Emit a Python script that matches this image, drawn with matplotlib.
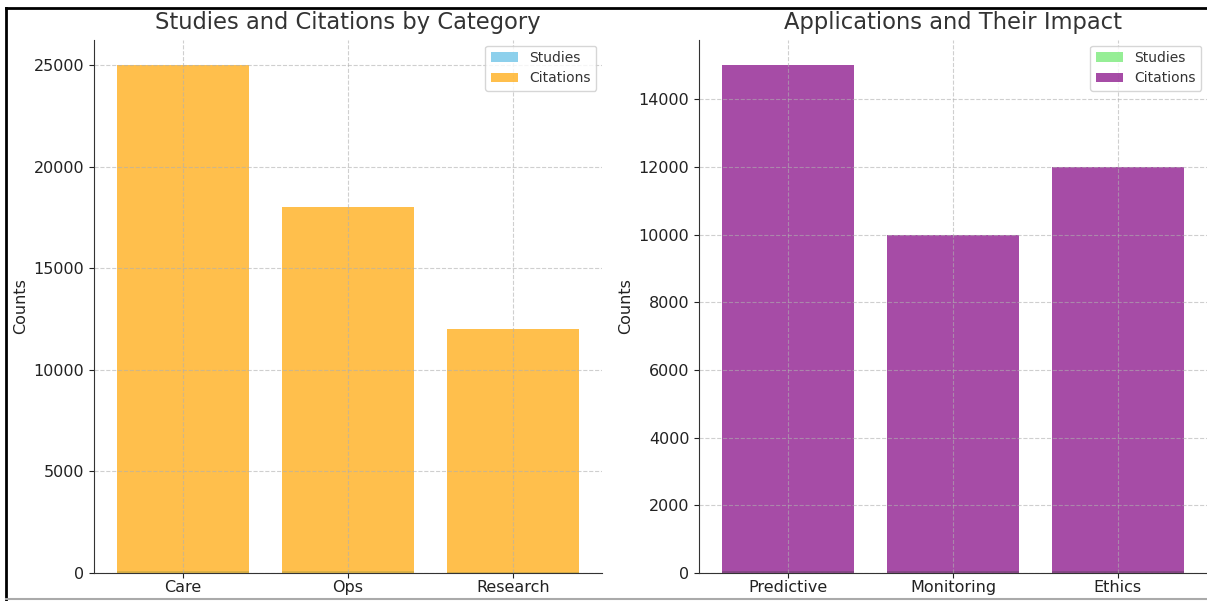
import matplotlib.pyplot as plt
from matplotlib.lines import Line2D
import numpy as np

# left panel: categories
categories = ["Care", "Ops", "Research"]
cat_studies = [120, 80, 60]
cat_citations = [25000, 18000, 12000]

# right panel: applications
applications = ["Predictive", "Monitoring", "Ethics"]
app_studies = [60, 45, 50]
app_citations = [15000, 10000, 12000]

plt.rcParams["font.family"] = "DejaVu Sans"
plt.rcParams["text.color"] = "#333333"
plt.rcParams["axes.labelcolor"] = "#222222"
plt.rcParams["xtick.color"] = "#222222"
plt.rcParams["ytick.color"] = "#222222"
plt.rcParams["axes.edgecolor"] = "#333333"

fig = plt.figure(figsize=(12.07, 6.01), dpi=100)
ax1 = fig.add_axes([0.0779, 0.0466, 0.4209, 0.8869])
ax2 = fig.add_axes([0.5791, 0.0466, 0.4209, 0.8869])


def panel(ax, labels, studies, citations, c_studies, c_cit, title):
    x = np.arange(len(labels))
    ax.bar(x, studies, color=c_studies, alpha=0.95, label="Studies", width=0.8)
    ax.bar(x, citations, color=c_cit, alpha=0.7, label="Citations", width=0.8)
    ax.set_xticks(x)
    ax.set_xticklabels(labels)
    ax.set_title(title, fontsize=16.3, pad=8)
    ax.set_ylabel("Counts", fontsize=11.5)
    ax.tick_params(labelsize=11.5)
    ax.tick_params(axis="x", pad=1.5)
    ax.grid(True, linestyle="--", alpha=0.6, color="#b0b0b0", lw=0.8)
    for s in ["top", "right"]:
        ax.spines[s].set_visible(False)
    ax.legend(loc="upper right", fontsize=10, framealpha=0.8,
              borderaxespad=0.4, labelspacing=0.45)


panel(ax1, categories, cat_studies, cat_citations, "skyblue", "orange",
      "Studies and Citations by Category")
panel(ax2, applications, app_studies, app_citations, "lightgreen", "purple",
      "Applications and Their Impact")

# screenshot frame
fig.add_artist(Line2D([0.005, 0.005], [0.0, 0.987], color="black", lw=2))
fig.add_artist(Line2D([0.005, 1.0], [0.987, 0.987], color="black", lw=2))
fig.add_artist(Line2D([0.005, 1.0], [0.003, 0.003], color="#aaaaaa", lw=1.5))

fig.savefig("out.png", dpi=100)
